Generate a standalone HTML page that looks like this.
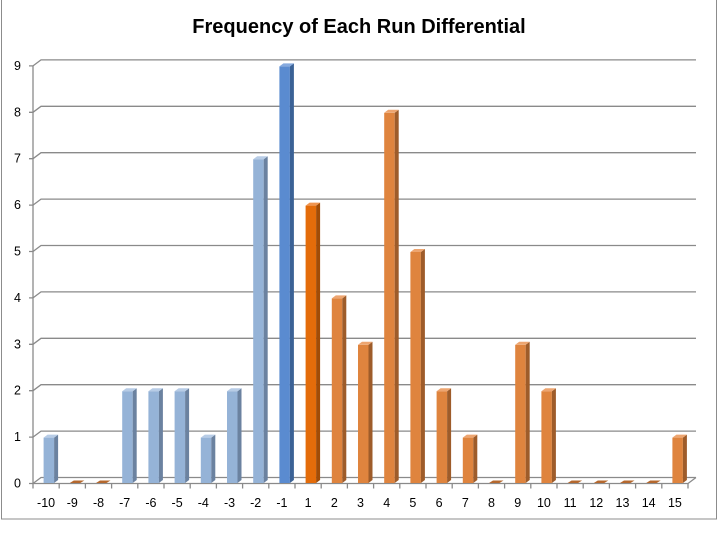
<!DOCTYPE html>
<html><head><style>
html,body{margin:0;padding:0;background:#fff}
svg{display:block}
</style></head><body>
<svg width="718" height="535" viewBox="0 0 718 535" xmlns="http://www.w3.org/2000/svg" font-family="Liberation Sans, sans-serif">
<rect x="0" y="0" width="718" height="535" fill="#fff"/>
<rect x="1.5" y="-5" width="715" height="524" fill="none" stroke="#8c8c8c" stroke-width="1"/>
<text x="359" y="33" text-anchor="middle" font-size="20" font-weight="bold" fill="#000">Frequency of Each Run Differential</text>
<g id="grid" stroke="#8a8a8a" stroke-width="1.3" fill="none"></g>
<g id="bars"></g>
<g id="labels" font-size="12.5" fill="#000"></g>
<script>
(function(){
var ns="http://www.w3.org/2000/svg";
function el(p,t,a,txt){var e=document.createElementNS(ns,t);for(var k in a)e.setAttribute(k,a[k]);if(txt!=null)e.textContent=txt;p.appendChild(e);return e;}
var g=document.getElementById('grid'),b=document.getElementById('bars'),l=document.getElementById('labels');
var U=46.4, F0=483.5, dx=8, dy=6;
for(var v=0;v<=9;v++){
 var yf=F0-v*U, yb=yf-dy;
 el(g,'path',{d:'M29 '+yf+' L33 '+yf+' L'+(33+dx)+' '+yb+' L696 '+yb});
 el(l,'text',{x:21,y:yf+4,'text-anchor':'end'},String(v));
}
el(g,'path',{d:'M33 '+(F0-9*U)+' L33 '+F0+' L688 '+F0+' L696 '+(F0-dy)});
var cats=[-10,-9,-8,-7,-6,-5,-4,-3,-2,-1,1,2,3,4,5,6,7,8,9,10,11,12,13,14,15];
var vals=[1,0,0,2,2,2,1,2,7,9,6,4,3,8,5,2,1,0,3,2,0,0,0,0,1];
var W=26.2;
for(var i=0;i<=25;i++){var x=33+i*W;el(g,'path',{d:'M'+x+' '+F0+' L'+x+' '+(F0+5)});}
for(var i=0;i<25;i++){
 var c=33+W*(i+0.5), v=vals[i], k=cats[i];
 el(l,'text',{x:c,y:507,'text-anchor':'middle'},String(k));
 var front,side,top;
 if(k<-1){front='#95B3D7';side='#6B82A0';top='#B7CCE6';}
 else if(k==-1){front='#5A8BD0';side='#3B6296';top='#86AADF';}
 else if(k==1){front='#E46C0A';side='#A14C07';top='#F09550';}
 else{front='#DF843E';side='#9E5C2A';top='#EDA570';}
 var x0=c-2.5,x1=c+8,d=4;
 if(v==0){
  el(b,'path',{d:'M'+x0+' '+(F0-0.5)+' L'+x1+' '+(F0-0.5)+' L'+(x1+d)+' '+(F0-3)+' L'+(x0+d)+' '+(F0-3)+'Z',fill:'#B5682E'});
  continue;
 }
 var yt=F0-v*U+0.5, yb=F0-0.5;
 el(b,'rect',{x:x0,y:yt,width:x1-x0,height:yb-yt,fill:front});
 el(b,'path',{d:'M'+x1+' '+yt+' L'+(x1+d)+' '+(yt-3)+' L'+(x1+d)+' '+(yb-3)+' L'+x1+' '+yb+'Z',fill:side});
 el(b,'path',{d:'M'+x0+' '+yt+' L'+(x0+d)+' '+(yt-3)+' L'+(x1+d)+' '+(yt-3)+' L'+x1+' '+yt+'Z',fill:top});
}
})();
</script>
</svg>
</body></html>
